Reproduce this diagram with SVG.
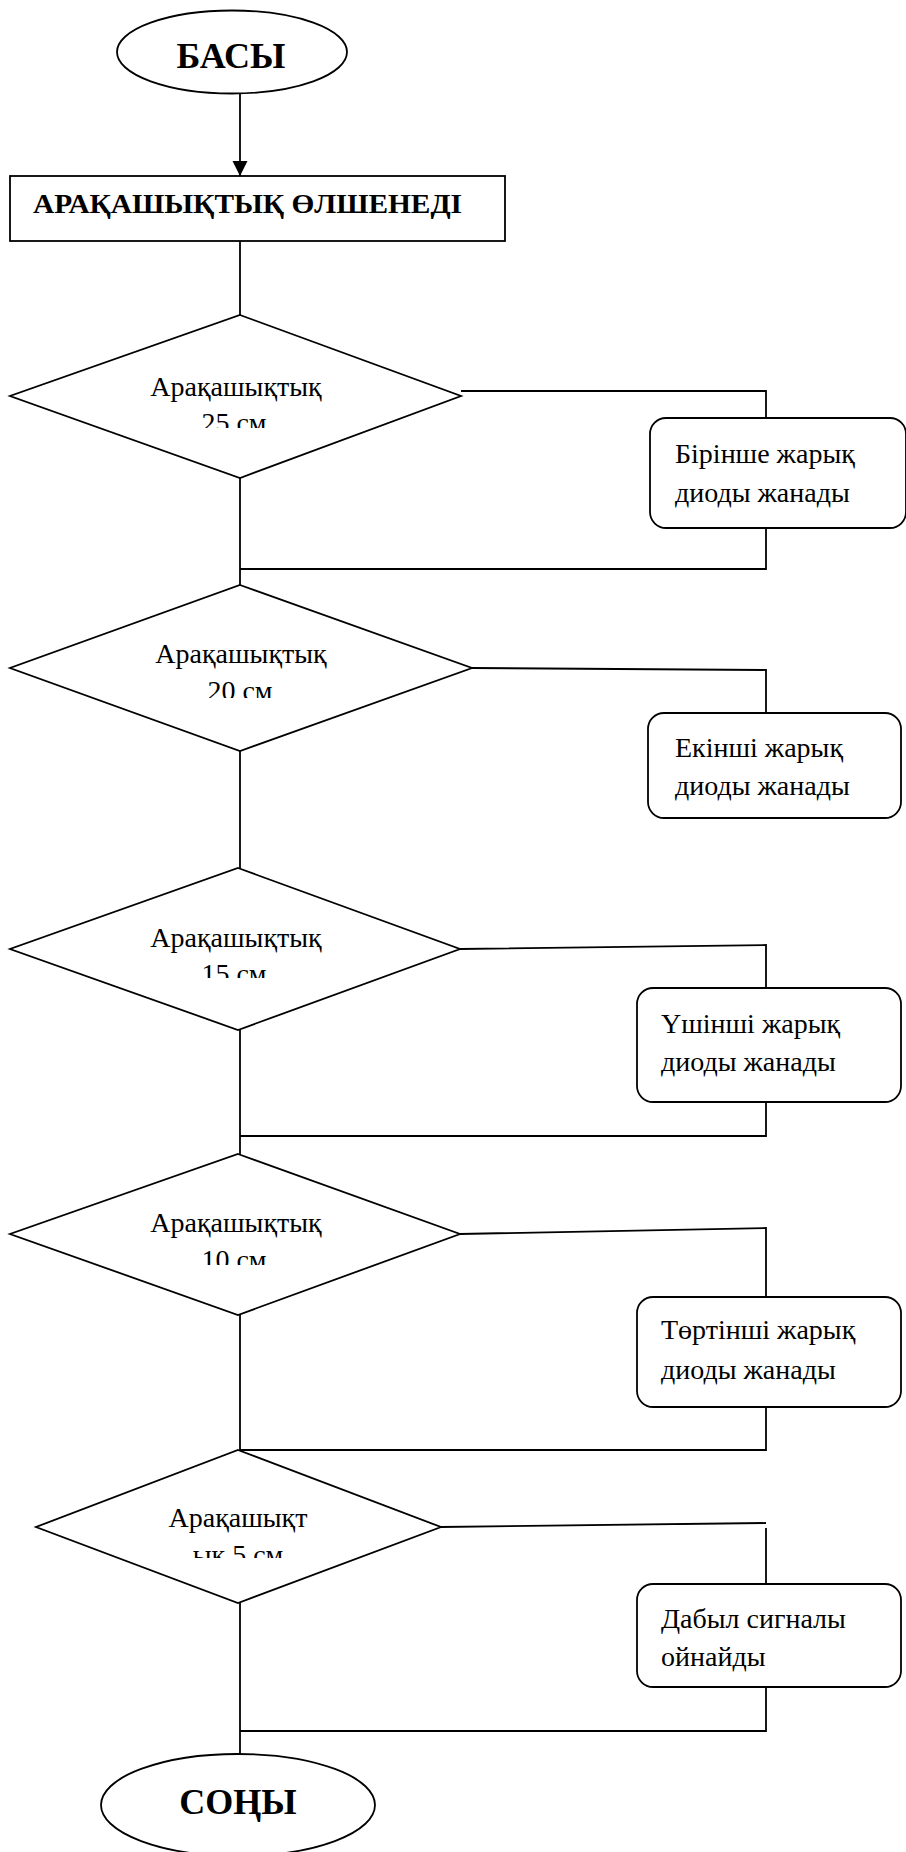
<svg xmlns="http://www.w3.org/2000/svg" width="906" height="1852" viewBox="0 0 906 1852">
<style>
.s{fill:#fff;stroke:#000;stroke-width:1.8}
.ln{fill:none;stroke:#000;stroke-width:1.8}
.t{font-family:"Liberation Serif","Times New Roman",serif;font-size:28px;fill:#000}
.b{font-family:"Liberation Serif","Times New Roman",serif;font-weight:bold;fill:#000}
.m{text-anchor:middle}
</style>
<defs>
<marker id="ah" markerWidth="16" markerHeight="16" refX="15" refY="7.5" orient="auto" markerUnits="userSpaceOnUse">
<path d="M0,0 L15,7.5 L0,15 Z" fill="#000"/>
</marker>
<clipPath id="c1"><rect x="0" y="300" width="906" height="128"/></clipPath>
<clipPath id="c2"><rect x="0" y="600" width="906" height="98"/></clipPath>
<clipPath id="c3"><rect x="0" y="900" width="906" height="78"/></clipPath>
<clipPath id="c4"><rect x="0" y="1200" width="906" height="65"/></clipPath>
<clipPath id="c5"><rect x="0" y="1500" width="906" height="58"/></clipPath>
</defs>
<rect width="906" height="1852" fill="#fff"/>
<g id="connectors">
<line class="ln" x1="240" y1="93" x2="240" y2="176" marker-end="url(#ah)"/>
<line class="ln" x1="240" y1="241" x2="240" y2="315"/>
<line class="ln" x1="240" y1="478" x2="240" y2="585"/>
<line class="ln" x1="240" y1="750" x2="240" y2="868"/>
<line class="ln" x1="240" y1="1030" x2="240" y2="1154"/>
<line class="ln" x1="240" y1="1315" x2="240" y2="1450"/>
<line class="ln" x1="240" y1="1603" x2="240" y2="1754"/>
<polyline class="ln" points="461,391 766,391 766,418"/>
<polyline class="ln" points="766,528 766,569 240,569"/>
<polyline class="ln" points="472,668 766,670 766,713"/>
<polyline class="ln" points="460,949 766,945 766,988"/>
<polyline class="ln" points="766,1102 766,1136 240,1136"/>
<polyline class="ln" points="460,1234 766,1228 766,1297"/>
<polyline class="ln" points="766,1407 766,1450 240,1450"/>
<polyline class="ln" points="441,1527 766,1523"/>
<line class="ln" x1="766" y1="1528" x2="766" y2="1584"/>
<polyline class="ln" points="766,1687 766,1731 240,1731"/>
</g>
<g id="start">
<ellipse class="s" cx="232" cy="52" rx="115" ry="41.5"/>
<text class="b m" x="231" y="68" font-size="36">БАСЫ</text>
</g>
<g id="measure">
<rect class="s" x="10" y="176" width="495" height="65"/>
<text class="b" x="33" y="213" font-size="28" textLength="429" lengthAdjust="spacingAndGlyphs">АРАҚАШЫҚТЫҚ ӨЛШЕНЕДІ</text>
</g>
<g id="d1">
<polygon class="s" points="240,315 461,396 240,478 10,396"/>
<text class="t m" x="236" y="396">Арақашықтық</text>
<text class="t m" x="234" y="432" clip-path="url(#c1)">25 см</text>
</g>
<g id="r1">
<rect class="s" x="650" y="418" width="256" height="110" rx="16"/>
<text class="t" x="675" y="463">Бірінше жарық</text>
<text class="t" x="675" y="502">диоды жанады</text>
</g>
<g id="d2">
<polygon class="s" points="240,585 472,668 240,751 10,668"/>
<text class="t m" x="241" y="663">Арақашықтық</text>
<text class="t m" x="240" y="700" clip-path="url(#c2)">20 см</text>
</g>
<g id="r2">
<rect class="s" x="648" y="713" width="253" height="105" rx="16"/>
<text class="t" x="675" y="757">Екінші жарық</text>
<text class="t" x="675" y="795">диоды жанады</text>
</g>
<g id="d3">
<polygon class="s" points="238,868 460,949 238,1030 10,949"/>
<text class="t m" x="236" y="947">Арақашықтық</text>
<text class="t m" x="234" y="983" clip-path="url(#c3)">15 см</text>
</g>
<g id="r3">
<rect class="s" x="637" y="988" width="264" height="114" rx="16"/>
<text class="t" x="661" y="1033">Үшінші жарық</text>
<text class="t" x="661" y="1071">диоды жанады</text>
</g>
<g id="d4">
<polygon class="s" points="238,1154 460,1234 238,1315 10,1234"/>
<text class="t m" x="236" y="1232">Арақашықтық</text>
<text class="t m" x="234" y="1269" clip-path="url(#c4)">10 см</text>
</g>
<g id="r4">
<rect class="s" x="637" y="1297" width="264" height="110" rx="16"/>
<text class="t" x="661" y="1339">Төртінші жарық</text>
<text class="t" x="661" y="1379">диоды жанады</text>
</g>
<g id="d5">
<polygon class="s" points="238,1450 441,1527 238,1603 36,1527"/>
<text class="t m" x="238" y="1527">Арақашықт</text>
<text class="t m" x="238" y="1564" clip-path="url(#c5)">ық 5 см</text>
</g>
<g id="r5">
<rect class="s" x="637" y="1584" width="264" height="103" rx="16"/>
<text class="t" x="661" y="1628">Дабыл сигналы</text>
<text class="t" x="661" y="1666">ойнайды</text>
</g>
<g id="end">
<ellipse class="s" cx="238" cy="1805" rx="137" ry="51"/>
<text class="b m" x="238" y="1814" font-size="36">СОҢЫ</text>
</g>
</svg>
